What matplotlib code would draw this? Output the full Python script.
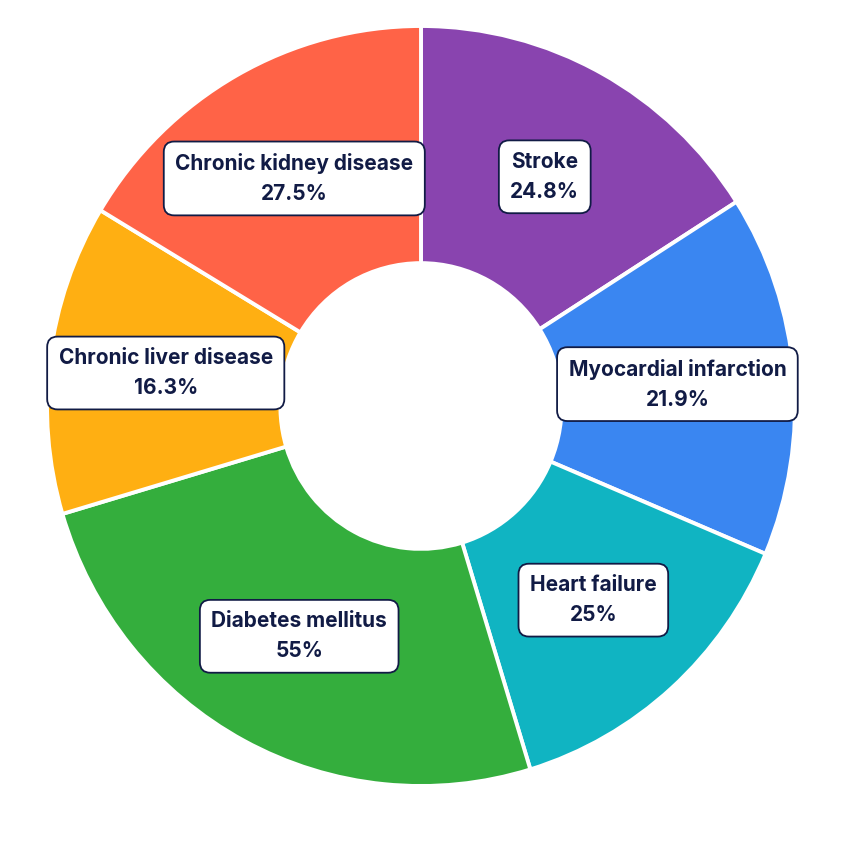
import matplotlib
matplotlib.use("Agg")
import matplotlib.pyplot as plt
import numpy as np

categories = ["Stroke", "Myocardial infarction", "Heart failure", "Diabetes mellitus",
              "Chronic liver disease", "Chronic kidney disease"]
value_labels = ["24.8%", "21.9%", "25%", "55%", "16.3%", "27.5%"]
# arc size of each slice as drawn in the picture (degrees, clockwise from top)
slice_degrees = [57.5, 55.4, 50.1, 90.5, 47.5, 59.0]
colors = ["#8944AF", "#3A86F1", "#10B4C2", "#34AE3D", "#FFAF12", "#FF6347"]

plt.rcParams['font.family'] = ['Inter', 'DejaVu Sans']

fig = plt.figure(figsize=(8.44, 8.44), dpi=100)
ax = fig.add_axes([0, 0, 1, 1])
Rx, Ry = 374.0, 380.0
cx, cy = 421.0, 406.0
inner = 0.376
wedges, _ = ax.pie(slice_degrees, colors=colors, startangle=90, counterclock=False, radius=1,
                   wedgeprops=dict(width=1 - inner, edgecolor="white", linewidth=2.8))
ax.set_xlim(-cx / Rx, (844 - cx) / Rx)
ax.set_ylim(-(844 - cy) / Ry, cy / Ry)
ax.set_aspect('auto')
ax.axis('off')

total = sum(slice_degrees)
r_lab = (1 + inner) / 2
cum = 0
for cat, v, lab in zip(categories, slice_degrees, value_labels):
    mid = (cum + v / 2) / total * 2 * np.pi
    cum += v
    x = r_lab * np.sin(mid)
    y = r_lab * np.cos(mid)
    ax.text(x, y, f"{cat}\n{lab}", ha='center', va='center', fontsize=15, fontweight='bold',
            color="#111B45", linespacing=1.62, multialignment='center',
            bbox=dict(boxstyle="round,pad=0.55,rounding_size=0.5", fc="white", ec="#111B45", lw=1.3))

fig.savefig("out.png", dpi=100)
